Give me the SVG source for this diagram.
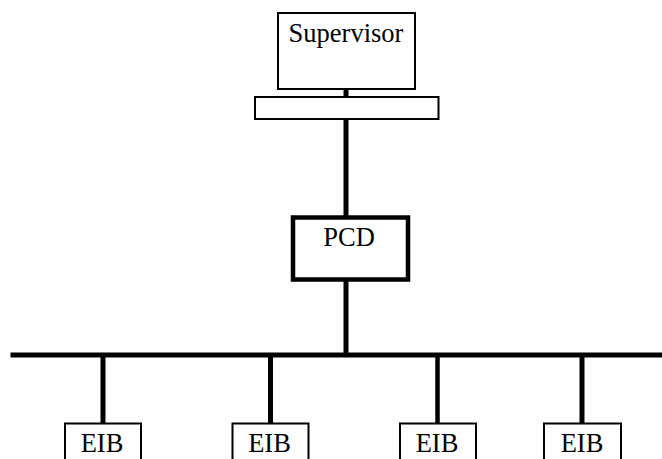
<svg xmlns="http://www.w3.org/2000/svg" width="662" height="459" viewBox="0 0 662 459">
<style>
.box{fill:#fff;stroke:#000;stroke-width:2}
.thick{fill:#fff;stroke:#000;stroke-width:4.5}
.wire{stroke:#000;stroke-width:5;fill:none}
text{font-family:"Liberation Serif","Times New Roman",serif;font-size:26.5px;fill:#000;text-anchor:middle}
</style>
<g id="connectors">
<line class="wire" x1="346" y1="89" x2="346" y2="96"/>
<line class="wire" x1="346" y1="119" x2="346" y2="216"/>
<line class="wire" x1="346" y1="281" x2="346" y2="353"/>
<line class="wire" x1="10.5" y1="355" x2="662" y2="355"/>
<line class="wire" x1="103" y1="355" x2="103" y2="423"/>
<line class="wire" x1="270.5" y1="355" x2="270.5" y2="423"/>
<line class="wire" x1="437.5" y1="355" x2="437.5" y2="423" style="stroke-width:4.5"/>
<line class="wire" x1="582" y1="355" x2="582" y2="423"/>
</g>
<g id="supervisor">
<rect class="box" x="278" y="13" width="137" height="76"/>
<text x="346" y="42">Supervisor</text>
</g>
<g id="interface">
<rect class="box" x="255" y="97" width="183.5" height="22"/>
</g>
<g id="pcd">
<rect class="thick" x="293" y="217.5" width="115" height="62"/>
<text x="349" y="246">PCD</text>
</g>
<g id="eib1">
<rect class="box" x="65" y="423.5" width="76" height="40"/>
<text x="102" y="452">EIB</text>
</g>
<g id="eib2">
<rect class="box" x="232.5" y="423.5" width="76" height="40"/>
<text x="269.5" y="452">EIB</text>
</g>
<g id="eib3">
<rect class="box" x="400" y="423.5" width="76" height="40"/>
<text x="437" y="452">EIB</text>
</g>
<g id="eib4">
<rect class="box" x="544" y="423.5" width="77" height="40"/>
<text x="582" y="452">EIB</text>
</g>
</svg>
